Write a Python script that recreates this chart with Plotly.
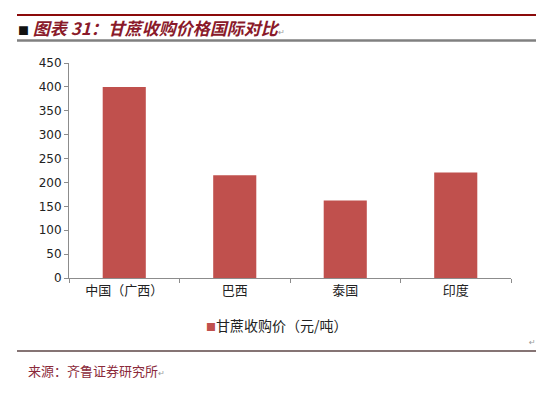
import plotly.graph_objects as go

categories = ["中国（广西）", "巴西", "泰国", "印度"]
prices = [400, 215, 162, 221]
y_ticks = [0, 50, 100, 150, 200, 250, 300, 350, 400, 450]
series_name = "甘蔗收购价（元/吨）"
title_text = "图表 31：甘蔗收购价格国际对比"
source_text = "来源：齐鲁证券研究所"

BAR = "#C0504D"
CJK = "Noto Sans CJK SC"

W, H = 550, 396
L, R, T, B = 69, 39, 63, 118


def px_x(x):
    return (x - L) / (W - L - R)


def px_y(y):
    return (278 - y) / (H - T - B)


fig = go.Figure()
fig.add_trace(go.Bar(x=categories, y=prices, marker=dict(color=BAR, line=dict(width=0)),
                     showlegend=False, hoverinfo="x+y"))
fig.add_trace(go.Scatter(x=[categories[0]], y=[None], mode="markers",
                         name="<span style='color:" + BAR + ";font-size:10px'>■</span>" + series_name,
                         marker=dict(symbol="square", size=1, color="rgba(0,0,0,0)"),
                         showlegend=True, hoverinfo="skip"))

fig.update_layout(
    width=W, height=H,
    margin=dict(l=L, r=R, t=T, b=B, pad=0),
    paper_bgcolor="white", plot_bgcolor="white",
    bargap=0.61,
    font=dict(family=CJK, color="#222"),
    legend=dict(orientation="h", x=px_x(206 - 40), xanchor="left",
                y=px_y(326), yanchor="middle",
                font=dict(family=CJK, size=14, color="#222"),
                bgcolor="rgba(0,0,0,0)", itemwidth=30),
    xaxis=dict(showline=True, linecolor="#8C8C8C", linewidth=1, ticks="outside",
               tickson="boundaries", ticklen=4, tickcolor="#8C8C8C",
               tickfont=dict(family=CJK, size=13, color="#222"), showgrid=False,
               fixedrange=True),
    yaxis=dict(range=[0, 450], tickvals=y_ticks, showline=True, linecolor="#8C8C8C",
               linewidth=1, ticks="outside", ticklen=4, tickcolor="#8C8C8C",
               tickfont=dict(family="DejaVu Sans", size=12, color="#222"),
               showgrid=False, zeroline=False, fixedrange=True),
)

x0, x1 = px_x(17), px_x(536)
fig.add_shape(type="line", xref="paper", yref="paper", x0=x0, x1=x1,
              y0=px_y(15), y1=px_y(15), line=dict(color="#8B0A0A", width=2))
fig.add_shape(type="line", xref="paper", yref="paper", x0=x0, x1=x1,
              y0=px_y(40.5), y1=px_y(40.5), line=dict(color="#808080", width=2.5))
fig.add_shape(type="line", xref="paper", yref="paper", x0=x0, x1=x1,
              y0=px_y(351), y1=px_y(351), line=dict(color="#857474", width=2))

fig.add_annotation(xref="paper", yref="paper", x=px_x(16), y=px_y(28), xanchor="left", yanchor="middle",
                   showarrow=False,
                   text="<span style='color:#111;font-size:11px'>■</span> <b><i>" + title_text +
                        "</i></b><span style='color:#999;font-size:8px'>↵</span>",
                   font=dict(family=CJK, size=17, color="#8A1A2A"))
fig.add_annotation(xref="paper", yref="paper", x=px_x(26), y=px_y(370), xanchor="left", yanchor="middle",
                   showarrow=False,
                   text=source_text + "<span style='color:#999;font-size:8px'>↵</span>",
                   font=dict(family=CJK, size=13, color="#8B2A3A"))
fig.add_annotation(xref="paper", yref="paper", x=px_x(532), y=px_y(342), xanchor="center", yanchor="middle",
                   showarrow=False, text="↵", font=dict(family="DejaVu Sans", size=8, color="#999"))

fig.write_html("out.html", config={"displayModeBar": False},
               post_script="document.body.style.margin='0';")
